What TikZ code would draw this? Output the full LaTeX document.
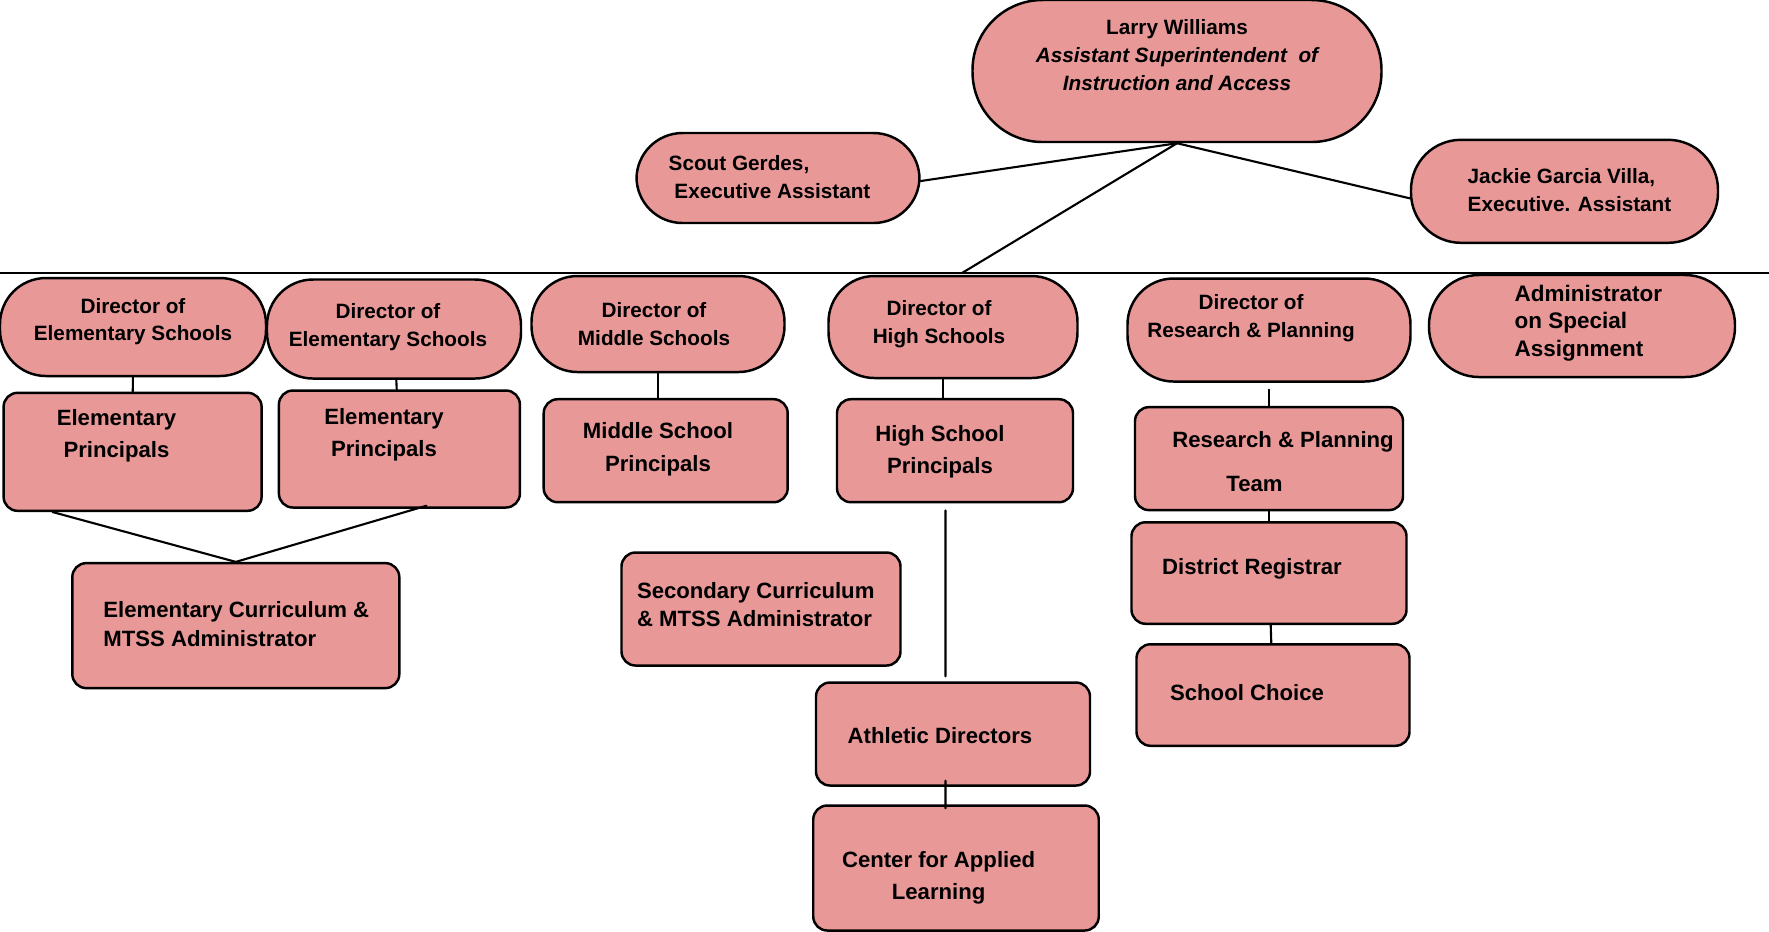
\documentclass[tikz,border=0pt]{standalone}
\usepackage{fontspec}
\setmainfont{Liberation Sans}
\definecolor{boxpink}{RGB}{233,152,152}

\begin{document}
\begin{tikzpicture}[x=1cm, y=-1cm, line join=round, line cap=round,
		pill/.style={draw, fill=boxpink, line width=.7pt, inner sep=0, rounded corners=#1},
		pill/.default=4.6mm,
		card/.style={draw, fill=boxpink, line width=.7pt, inner sep=0, rounded corners=1.4mm},
		lbl/.style={font=\bfseries\fontsize{5.9}{7.8}\selectfont, align=center, inner sep=0},
		lblb/.style={font=\bfseries\fontsize{6.3}{9}\selectfont, align=center, inner sep=0},
		link/.style={line width=.6pt}]
	\useasboundingbox (0,0) rectangle (17.69,9.31);
	% top level
	\node[pill=7mm, minimum width=4.09cm, minimum height=1.42cm] (lw) at (11.77,0.71) {};
	\node[lbl, font=\bfseries\fontsize{5.9}{8}\selectfont] (lwt) at (11.77,0.553) {Larry Williams\\\itshape Assistant Superintendent\ \ of\\\itshape Instruction and Access};
	\node[pill, minimum width=2.83cm, minimum height=0.90cm] (scout) at (7.78,1.78) {};
	\node[lbl, align=left, anchor=west] (scoutt) at (6.68,1.77) {Scout Gerdes,\\\ Executive Assistant};
	\node[pill=5mm, minimum width=3.07cm, minimum height=1.03cm] (jcv) at (15.645,1.913) {};
	\node[lbl, align=left, anchor=west] (jcvt) at (14.67,1.90) {Jackie Garcia Villa,\\Executive. Assistant};
	\coordinate (barL) at (0,2.73);
	\coordinate (barR) at (17.69,2.73);
	\coordinate (barT) at (9.62,2.73);
	% directors
	\node[pill, minimum width=2.66cm, minimum height=0.98cm] (de1) at (1.33,3.27) {};
	\node[lbl] (de1t) at (1.33,3.215) {Director of\\Elementary Schools};
	\node[pill, minimum width=2.54cm, minimum height=0.99cm] (de2) at (3.94,3.29) {};
	\node[lbl] (de2t) at (3.88,3.27) {Director of\\Elementary Schools};
	\node[pill, minimum width=2.53cm, minimum height=0.96cm] (dm) at (6.58,3.24) {};
	\node[lbl] (dmt) at (6.54,3.24) {Director of\\Middle Schools};
	\node[pill, minimum width=2.49cm, minimum height=1.02cm] (dh) at (9.53,3.27) {};
	\node[lbl] (dht) at (9.39,3.24) {Director of\\High Schools};
	\node[pill, minimum width=2.83cm, minimum height=1.03cm] (drp) at (12.69,3.30) {};
	\node[lbl] (drpt) at (12.51,3.18) {Director of\\Research \& Planning};
	\node[pill=5mm, minimum width=3.06cm, minimum height=1.02cm] (aosa) at (15.82,3.26) {};
	\node[lbl, font=\bfseries\fontsize{6.4}{7.9}\selectfont, align=left, anchor=west] (aosat) at (15.14,3.23) {Administrator\\on Special\\Assignment};
	% second row
	\node[card, minimum width=2.58cm, minimum height=1.18cm] (ep1) at (1.326,4.518) {};
	\node[lblb] (ep1t) at (1.165,4.36) {Elementary\\Principals};
	\node[card, minimum width=2.41cm, minimum height=1.17cm] (ep2) at (3.994,4.49) {};
	\node[lblb] (ep2t) at (3.84,4.35) {Elementary\\Principals};
	\node[card, minimum width=2.44cm, minimum height=1.03cm] (msp) at (6.657,4.507) {};
	\node[lblb, font=\bfseries\fontsize{6.3}{9.3}\selectfont] (mspt) at (6.58,4.49) {Middle School\\Principals};
	\node[card, minimum width=2.36cm, minimum height=1.03cm] (hsp) at (9.55,4.507) {};
	\node[lblb] (hspt) at (9.40,4.515) {High School\\Principals};
	\node[card, minimum width=2.68cm, minimum height=1.03cm] (rpt) at (12.69,4.586) {};
	\node[lblb] (rptt) at (12.83,4.62) {Research \& Planning\\[3.5pt]Team\hspace{0.57cm}\mbox{}};
	\node[card, minimum width=2.75cm, minimum height=1.015cm] (reg) at (12.69,5.73) {};
	\node[lblb] (regt) at (12.52,5.685) {District Registrar};
	\node[card, minimum width=2.73cm, minimum height=1.015cm] (sc) at (12.73,6.95) {};
	\node[lblb] (sct) at (12.47,6.926) {School Choice};
	% curriculum and high school branch
	\node[card, minimum width=3.27cm, minimum height=1.25cm] (ecm) at (2.358,6.256) {};
	\node[lblb, font=\bfseries\fontsize{6.3}{8.3}\selectfont, align=left, anchor=west] (ecmt) at (1.027,6.238) {Elementary Curriculum \&\\MTSS Administrator};
	\node[card, minimum width=2.79cm, minimum height=1.13cm] (scm) at (7.61,6.09) {};
	\node[lblb, font=\bfseries\fontsize{6.3}{8}\selectfont, align=left, anchor=west] (scmt) at (6.363,6.05) {Secondary Curriculum\\\& MTSS Administrator};
	\node[card, minimum width=2.74cm, minimum height=1.03cm] (ad) at (9.53,7.34) {};
	\node[lblb] (adt) at (9.40,7.355) {Athletic Directors};
	\node[card, minimum width=2.855cm, minimum height=1.25cm] (cal) at (9.56,8.68) {};
	\node[lblb] (calt) at (9.386,8.78) {Center for Applied\\Learning};
	% connectors
	\draw[link] (lw.south) -- (barT);
	\draw[link] (lw.south) -- ([yshift=-.3mm]scout.east);
	\draw[link] (lw.south) -- ([yshift=-.7mm]jcv.west);
	\draw[link] (barL) -- (barR);
	\draw[link] (de1) -- (ep1);
	\draw[link] (de2) -- (ep2);
	\draw[link] (dm.south) -- (dm.south |- msp.north);
	\draw[link] ([xshift=-1mm]dh.south) -- ([xshift=-1mm]dh.south |- hsp.north);
	\draw[link] ([yshift=-.7mm]drp.south) -- (rpt);
	\draw[link] (rpt) -- (reg);
	\draw[link] (reg) -- (sc);
	\draw[link] ([xshift=-.95mm,yshift=-.7mm]hsp.south) -- ([xshift=-.75mm,yshift=.5mm]ad.north);
	\draw[link] ([xshift=-.75mm,yshift=.6mm]ad.south) -- ([xshift=-1.05mm,yshift=-.4mm]cal.north);
	\draw[link] ([xshift=-8mm]ep1.south) -- (ecm.north) -- ([xshift=2.7mm,yshift=.3mm]ep2.south);
\end{tikzpicture}
\end{document}
